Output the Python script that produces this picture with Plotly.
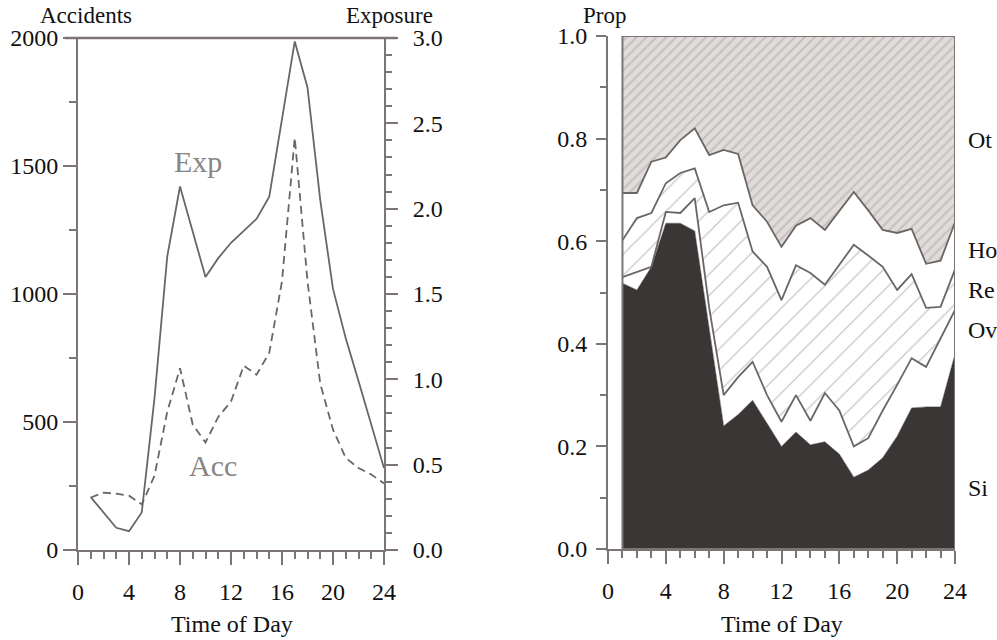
import plotly.graph_objects as go

# ---------------- data ----------------
hours = [1, 2, 3, 4, 5, 6, 7, 8, 9, 10, 11, 12, 13, 14, 15, 16, 17, 18, 19, 20, 21, 22, 23, 24]

# left panel
accidents = [205, 224, 220, 212, 178, 290, 540, 710, 490, 420, 520, 580,
             720, 685, 770, 1050, 1610, 1050, 650, 470, 360, 320, 295, 260]
exposure = [0.31, 0.22, 0.13, 0.11, 0.22, 0.89, 1.72, 2.13, 1.87, 1.60, 1.71, 1.80,
            1.87, 1.94, 2.07, 2.53, 2.98, 2.71, 2.05, 1.53, 1.24, 0.99, 0.73, 0.48]

# right panel: cumulative proportions (upper boundary of each band)
si_top = [0.518, 0.505, 0.55, 0.635, 0.635, 0.62, 0.43, 0.24, 0.262, 0.29, 0.245, 0.2,
          0.228, 0.203, 0.209, 0.185, 0.14, 0.154, 0.178, 0.22, 0.275, 0.277, 0.277, 0.38]
ov_top = [0.53, 0.54, 0.55, 0.657, 0.655, 0.684, 0.47, 0.30, 0.335, 0.365, 0.30, 0.248,
          0.30, 0.25, 0.304, 0.27, 0.2, 0.216, 0.27, 0.32, 0.372, 0.355, 0.41, 0.466]
re_top = [0.602, 0.645, 0.655, 0.713, 0.733, 0.742, 0.657, 0.67, 0.675, 0.58, 0.55, 0.485,
          0.553, 0.538, 0.515, 0.554, 0.593, 0.572, 0.55, 0.505, 0.536, 0.47, 0.472, 0.545]
ho_top = [0.694, 0.694, 0.755, 0.763, 0.797, 0.82, 0.768, 0.778, 0.77, 0.67, 0.638, 0.589,
          0.63, 0.645, 0.622, 0.66, 0.696, 0.66, 0.622, 0.616, 0.624, 0.556, 0.562, 0.637]
ot_top = [1.0, 1.0, 1.0, 1.0, 1.0, 1.0, 1.0, 1.0, 1.0, 1.0, 1.0, 1.0,
          1.0, 1.0, 1.0, 1.0, 1.0, 1.0, 1.0, 1.0, 1.0, 1.0, 1.0, 1.0]

band_labels = ["Ot", "Ho", "Re", "Ov", "Si"]

x_ticks = [0, 4, 8, 12, 16, 20, 24]

# ---------------- style ----------------
W, H = 997, 640
FONT = "Liberation Serif"
FS = 24
AX = "#7b7675"
LINE = "#6b6665"
DARK = "#3a3635"


def px(x):
    return x / W


def py(y):
    return 1 - y / H


fig = go.Figure()

# left panel lines
fig.add_trace(go.Scatter(x=hours, y=exposure, mode="lines", xaxis="x", yaxis="y2",
                         line=dict(color=LINE, width=1.8), showlegend=False))
fig.add_trace(go.Scatter(x=hours, y=accidents, mode="lines", xaxis="x", yaxis="y",
                         line=dict(color=LINE, width=1.8, dash="8px,5px"), showlegend=False))

# right panel stacked bands
fig.add_trace(go.Scatter(x=hours, y=si_top, mode="lines", xaxis="x2", yaxis="y3",
                         fill="tozeroy", fillcolor=DARK, line=dict(color=DARK, width=0.5),
                         showlegend=False))
fig.add_trace(go.Scatter(x=hours, y=ov_top, mode="lines", xaxis="x2", yaxis="y3",
                         fill="tonexty", fillcolor="#ffffff", line=dict(color=LINE, width=1.8),
                         showlegend=False))
fig.add_trace(go.Scatter(x=hours, y=re_top, mode="lines", xaxis="x2", yaxis="y3",
                         fill="tonexty",
                         fillpattern=dict(shape="/", bgcolor="#ffffff", fgcolor="#8f8a89",
                                          size=15, solidity=0.08),
                         line=dict(color=LINE, width=1.8), showlegend=False))
fig.add_trace(go.Scatter(x=hours, y=ho_top, mode="lines", xaxis="x2", yaxis="y3",
                         fill="tonexty", fillcolor="#ffffff", line=dict(color=LINE, width=1.8),
                         showlegend=False))
fig.add_trace(go.Scatter(x=hours, y=ot_top, mode="lines", xaxis="x2", yaxis="y3",
                         fill="tonexty",
                         fillpattern=dict(shape="/", bgcolor="#e0dcda", fgcolor="#aba6a4",
                                          size=7, solidity=0.3),
                         line=dict(color=AX, width=1.8), showlegend=False))

tickfont = dict(family=FONT, size=FS, color="#111111")
common_x = dict(range=[0, 24], tickvals=x_ticks, ticks="outside", ticklen=13, tickwidth=2,
                tickcolor=AX, showline=True, linecolor=AX, linewidth=2, showgrid=False,
                zeroline=False, tickfont=tickfont, ticklabelstandoff=6,
                minor=dict(dtick=1, ticks="outside", ticklen=7, tickwidth=2, tickcolor=AX))

fig.update_layout(
    width=W, height=H,
    margin=dict(l=0, r=0, t=0, b=0, autoexpand=False),
    paper_bgcolor="#ffffff", plot_bgcolor="#ffffff",
    xaxis=dict(domain=[px(78), px(384)], anchor="y", **common_x),
    yaxis=dict(domain=[1 - 550 / H, 1 - 38 / H], range=[0, 2000], dtick=500, anchor="x",
               ticks="outside", ticklen=13, tickwidth=2, tickcolor=AX, showline=True,
               linecolor=AX, linewidth=2, showgrid=False, zeroline=False, tickfont=tickfont,
               ticklabelstandoff=0,
               minor=dict(dtick=250, ticks="outside", ticklen=7, tickwidth=2, tickcolor=AX)),
    yaxis2=dict(overlaying="y", side="right", range=[0, 3], dtick=0.5, tickformat=".1f",
                anchor="x", ticks="outside", ticklen=12, tickwidth=2, tickcolor=AX,
                showline=True, linecolor=AX, linewidth=2, showgrid=False, zeroline=False,
                tickfont=tickfont, ticklabelstandoff=10,
                minor=dict(dtick=0.1, ticks="outside", ticklen=6, tickwidth=2, tickcolor=AX)),
    xaxis2=dict(domain=[px(608), px(955)], anchor="y3", **common_x),
    yaxis3=dict(domain=[1 - 549 / H, 1 - 36 / H], range=[0, 1], dtick=0.2, tickformat=".1f",
                anchor="x2", ticks="outside", ticklen=10, tickwidth=2, tickcolor=AX,
                showline=True, linecolor=AX, linewidth=2, showgrid=False, zeroline=False,
                tickfont=tickfont, ticklabelstandoff=4,
                minor=dict(dtick=0.1, ticks="outside", ticklen=6, tickwidth=2, tickcolor=AX)),
)

# frames
fig.add_shape(type="line", xref="paper", yref="paper", x0=px(65), x1=px(397),
              y0=py(38), y1=py(38), line=dict(color=AX, width=2.5))
fig.add_shape(type="rect", xref="x2", yref="y3", x0=hours[0], x1=hours[-1], y0=0, y1=1,
              line=dict(color=AX, width=2), layer="above")

# text
def ann(text, x, y, size=FS, color="#111111", xanchor="center"):
    fig.add_annotation(text=text, x=px(x), y=py(y), xref="paper", yref="paper",
                       showarrow=False, xanchor=xanchor, yanchor="middle",
                       font=dict(family=FONT, size=size, color=color))


ann("Accidents", 86, 15, size=23)
ann("Exposure", 389, 15, size=23)
ann("Prop", 604, 15, size=23)
ann("Time of Day", 232, 624)
ann("Time of Day", 782, 624)
ann("Exp", 198, 161, size=30, color="#8a8584")
ann("Acc", 213, 465, size=30, color="#8a8584")

label_y = [140, 250, 290, 330, 488]
for lab, yy in zip(band_labels, label_y):
    ann(lab, 966, yy, xanchor="left")

fig.write_html("out.html", config={"displayModeBar": False},
               post_script="document.body.style.margin='0';document.body.style.overflow='hidden';")
